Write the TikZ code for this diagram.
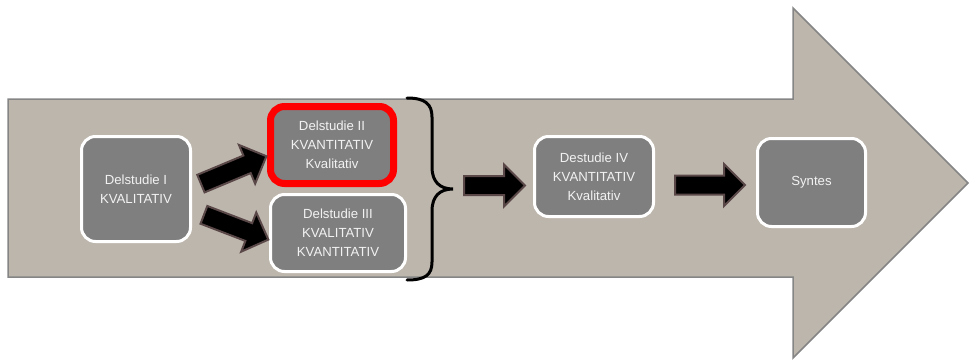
\documentclass[tikz,border=0pt]{standalone}
\usepackage{fontspec}
\setmainfont{Liberation Sans}
\usetikzlibrary{shapes.arrows,calc}
\definecolor{bandfill}{HTML}{BDB6AD}
\definecolor{bandline}{HTML}{858585}
\definecolor{boxfill}{HTML}{7F7F7F}
\definecolor{boxtext}{HTML}{F2F2F2}
\definecolor{arrline}{HTML}{5A4848}
\definecolor{hilite}{HTML}{FF0000}
\tikzset{
  study/.style={draw=white, line width=3pt, fill=boxfill, rounded corners=14pt,
    text=boxtext, align=center, inner sep=0pt,
    font=\fontsize{13.2}{19}\selectfont},
  blockarrow/.style={single arrow, draw=arrline, line width=2pt, fill=black,
    inner xsep=0pt, inner ysep=8.5pt, single arrow head extend=11.5pt,
    single arrow head indent=0pt, single arrow tip angle=90, anchor=tail},
}
\begin{document}
\begin{tikzpicture}[x=1pt,y=-1pt]
\useasboundingbox (0,0) rectangle (970,364);
% the broad process arrow in the background
\draw[fill=bandfill, draw=bandline, line width=1.5pt, line join=miter]
  (8,99) -- (793,99) -- (793,8) -- (968,183) -- (793,358) -- (793,277) -- (8,277) -- cycle;

% study boxes
\node[study, minimum width=109pt, minimum height=105pt] (s1) at (136,189)
  {Delstudie I\\KVALITATIV};
\node[study, draw=hilite, line width=7pt, minimum width=123pt, minimum height=77pt] (s2) at (332,145)
  {Delstudie II\\KVANTITATIV\\Kvalitativ};
\node[study, minimum width=135pt, minimum height=77pt] (s3) at (338,233)
  {Delstudie III\\KVALITATIV\\KVANTITATIV};
\node[study, minimum width=119pt, minimum height=80pt] (s4) at (594,176.5)
  {Destudie IV\\KVANTITATIV\\Kvalitativ};
\node[study, minimum width=108pt, minimum height=88pt] (s5) at (811.5,182.5)
  {Syntes};

% curly brace grouping studies II and III
\draw[line width=3pt, line cap=round]
  (407,98) .. controls (425,98) and (432,104) .. (432,117) -- (432,167)
  .. controls (432,182) and (440,189) .. (453,189)
  .. controls (440,189) and (432,196) .. (432,211) -- (432,262)
  .. controls (432,275) and (425,280) .. (407,280);
\coordinate (brace) at (453,189);

% block arrows between the studies (placed by their tails)
\coordinate (t1) at (200,184);   \coordinate (t2) at (203,214.5);
\coordinate (t3) at (463,185.5); \coordinate (t4) at (674,185);
\node[blockarrow, minimum height=71pt, rotate=22.7] (a1) at (t1) {};
\node[blockarrow, minimum height=69pt, rotate=-21]  (a2) at (t2) {};
\node[blockarrow, minimum height=61pt] (a3) at (t3) {};
\node[blockarrow, minimum height=70pt] (a4) at (t4) {};
\end{tikzpicture}
\end{document}
